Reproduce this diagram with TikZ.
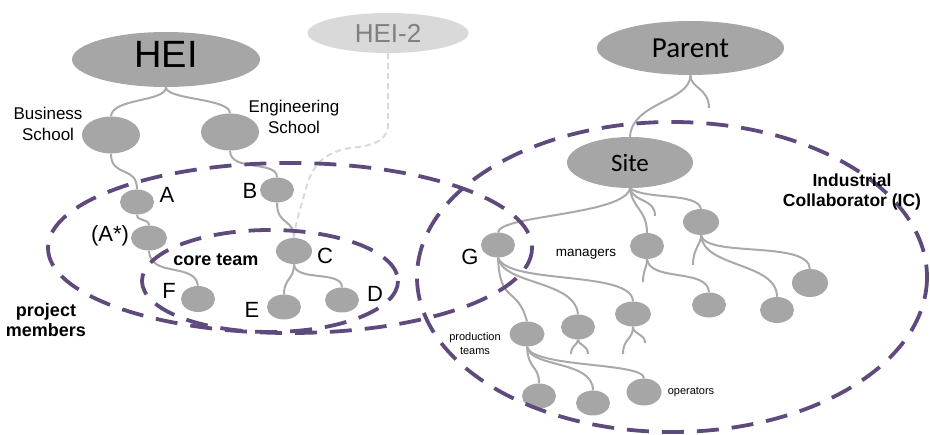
\documentclass[tikz,border=0pt]{standalone}
\usepackage{fontspec}
\setmainfont{Liberation Sans}
\newfontfamily\calibri{Carlito}
\usetikzlibrary{shapes.geometric}
\definecolor{ngray}{HTML}{A6A6A6}
\definecolor{lgray}{HTML}{A9A9A9}
\definecolor{bpurple}{HTML}{5F4A7D}
\definecolor{hlight}{HTML}{D9D9D9}
\definecolor{htext}{HTML}{808080}
\begin{document}
\begin{tikzpicture}[x=1pt,y=-1pt,
  tn/.style={ellipse, fill=ngray, draw=none, inner sep=0pt, minimum width=34pt, minimum height=25pt},
  bignode/.style={tn, minimum width=58pt, minimum height=37pt},
  conn/.style={draw=lgray, line width=2pt},
  hline/.style={draw=hlight, line width=2pt, dash pattern=on 6pt off 4pt},
  bound/.style={draw=bpurple, line width=3.8pt, dash pattern=on 22pt off 13pt},
  lab/.style={font=\fontsize{22}{24}\selectfont, inner sep=0pt},
  boldlab/.style={font=\bfseries\fontsize{17.5}{20}\selectfont, align=center, inner sep=0pt},
  small/.style={inner sep=0pt, align=center}]
\useasboundingbox (0,0) rectangle (930,435);

% ---------- left tree nodes ----------
\node[tn, minimum width=188pt, minimum height=55pt, text depth=10pt, font=\fontsize{38}{40}\selectfont] (hei) at (166,59.5) {HEI};
\node[tn, fill=hlight, text=htext, minimum width=161pt, minimum height=40pt, font=\fontsize{26}{28}\selectfont] (hei2) at (388,33) {HEI-2};
\node[bignode] (bs) at (111,135) {};
\node[bignode] (es) at (230,132) {};
\node[tn] (a) at (137,202) {};
\node[tn, minimum width=36pt] (as) at (149,238) {};
\node[tn] (b) at (277,190) {};
\node[tn, minimum width=36pt, minimum height=26pt] (c) at (294,251) {};
\node[tn, minimum height=26pt] (f) at (198,299) {};
\node[tn] (e) at (284,307) {};
\node[tn] (d) at (342,300) {};

% ---------- right tree nodes ----------
\node[tn, minimum width=187pt, minimum height=54pt, font=\calibri\fontsize{29}{30}\selectfont] (parent) at (690.5,48) {Parent};
\node[tn, minimum width=126pt, minimum height=51pt, font=\calibri\fontsize{25}{26}\selectfont] (site) at (630,162.5) {Site};
\node[tn] (g) at (498,245) {};
\node[tn, minimum height=26pt] (m2) at (647,246) {};
\node[tn, minimum width=36pt, minimum height=26pt] (m3) at (701,222) {};
\node[tn] (m2a) at (709,305) {};
\node[tn, minimum height=26pt] (m3a) at (777,310) {};
\node[tn, minimum width=36pt, minimum height=28pt] (m3b) at (810,283) {};
\node[tn, minimum width=35pt] (pt) at (527,334) {};
\node[tn] (n1) at (578,327) {};
\node[tn, minimum width=36pt] (n2) at (633,314) {};
\node[tn] (op1) at (539,396) {};
\node[tn] (op2) at (593,403) {};
\node[tn, minimum width=35pt, minimum height=27pt] (op3) at (644,392) {};

\coordinate (pstub) at (709,108);
\coordinate (sstub) at (655,216);
\coordinate (m2stub) at (643,282);
\coordinate (m3stub) at (693,265);
\coordinate (n1l) at (571,354);
\coordinate (n1r) at (588,354);
\coordinate (n2l) at (623,354);
\coordinate (n2r) at (645,343);

% ---------- left connectors ----------
\draw[conn] (hei.south) .. controls (166,102) and (112,98) .. (bs.north);
\draw[conn] (hei.south) .. controls (166,100) and (230,98) .. (es.north);
\draw[conn] (bs.south) .. controls (111,178) and (137,165) .. (a.north);
\draw[conn] (es.south) .. controls (230,172) and (277,160) .. (b.north);
\draw[conn] (a.south) .. controls (137,222) and (149,218) .. (as.north);
\draw[conn] (as.south) .. controls (150,278) and (195,262) .. (f.north);
\draw[conn] (b.south) .. controls (277,226) and (294,218) .. (c.north);
\draw[conn] (c.south) .. controls (294,280) and (284,278) .. (e.north);
\draw[conn] (c.south) .. controls (295,282) and (342,270) .. (d.north);
\draw[hline] (hei2.south) -- (388,125) .. controls (388,142) and (370,146) .. (350,148)
  .. controls (325,152) and (313,165) .. (307,185) .. controls (300,210) and (295,225) .. (c.north);

% ---------- right connectors ----------
\draw[conn] (parent.south) .. controls (690,102) and (632,102) .. (site.north);
\draw[conn] (parent.south) .. controls (690,88) and (709,88) .. (pstub);
\draw[conn] (site.south) .. controls (625,215) and (500,215) .. (g.north);
\draw[conn] (site.south) .. controls (632,208) and (647,210) .. (m2.north);
\draw[conn] (site.south) .. controls (634,203) and (655,198) .. (sstub);
\draw[conn] (site.south) .. controls (645,200) and (697,192) .. (m3.north);
\draw[conn] (m2.south) .. controls (647,268) and (643,270) .. (m2stub);
\draw[conn] (m2.south) .. controls (650,282) and (708,268) .. (m2a.north);
\draw[conn] (m3.south) .. controls (701,245) and (693,248) .. (m3stub);
\draw[conn] (m3.south) .. controls (703,268) and (777,262) .. (m3a.north);
\draw[conn] (m3.south) .. controls (706,258) and (808,240) .. (m3b.north);
\draw[conn] (g.south) .. controls (500,305) and (517,285) .. (pt.north);
\draw[conn] (g.south) .. controls (503,285) and (575,280) .. (n1.north);
\draw[conn] (g.south) .. controls (508,285) and (632,270) .. (n2.north);
\draw[conn] (n1.south) .. controls (578,345) and (571,345) .. (n1l);
\draw[conn] (n1.south) .. controls (578,345) and (588,345) .. (n1r);
\draw[conn] (n2.south) .. controls (633,340) and (623,338) .. (n2l);
\draw[conn] (n2.south) .. controls (633,335) and (645,333) .. (n2r);
\draw[conn] (pt.south) .. controls (528,370) and (539,365) .. (op1.north);
\draw[conn] (pt.south) .. controls (530,368) and (593,360) .. (op2.north);
\draw[conn] (pt.south) .. controls (532,368) and (644,362) .. (op3.north);

% ---------- dashed boundaries ----------
\draw[bound] (290,248) ellipse [x radius=242, y radius=85];
\draw[bound] (270,281) ellipse [x radius=128, y radius=51];
\draw[bound] (672,277) ellipse [x radius=255, y radius=155];

% ---------- labels ----------
\node[small, font=\fontsize{17}{21}\selectfont] (lbs) at (48,124) {Business\\School};
\node[small, font=\fontsize{17}{21}\selectfont] (les) at (294,117) {Engineering\\School};
\node[lab] (la) at (167,195) {A};
\node[lab] (lb) at (250,191) {B};
\node[lab] (las) at (110,236) {(A*)};
\node[lab] (lc) at (325,256) {C};
\node[lab] (lf) at (169,291) {F};
\node[lab] (le) at (252,310) {E};
\node[lab] (ld) at (375,294) {D};
\node[lab] (lg) at (470,257) {G};
\node[boldlab, font=\bfseries\fontsize{18}{20}\selectfont] (lcore) at (216,259.5) {core team};
\node[boldlab, font=\bfseries\fontsize{18}{20}\selectfont] (lpm) at (46,320) {project\\members};
\node[boldlab] (lic) at (852,192) {Industrial\\Collaborator (IC)};
\node[small, font=\fontsize{13.5}{15}\selectfont] (lman) at (586,254) {managers};
\node[small, font=\fontsize{11}{14}\selectfont] (lop) at (691,392) {operators};
\node[small, font=\fontsize{11}{14}\selectfont] (lpt) at (475,344) {production\\teams};
\end{tikzpicture}
\end{document}
